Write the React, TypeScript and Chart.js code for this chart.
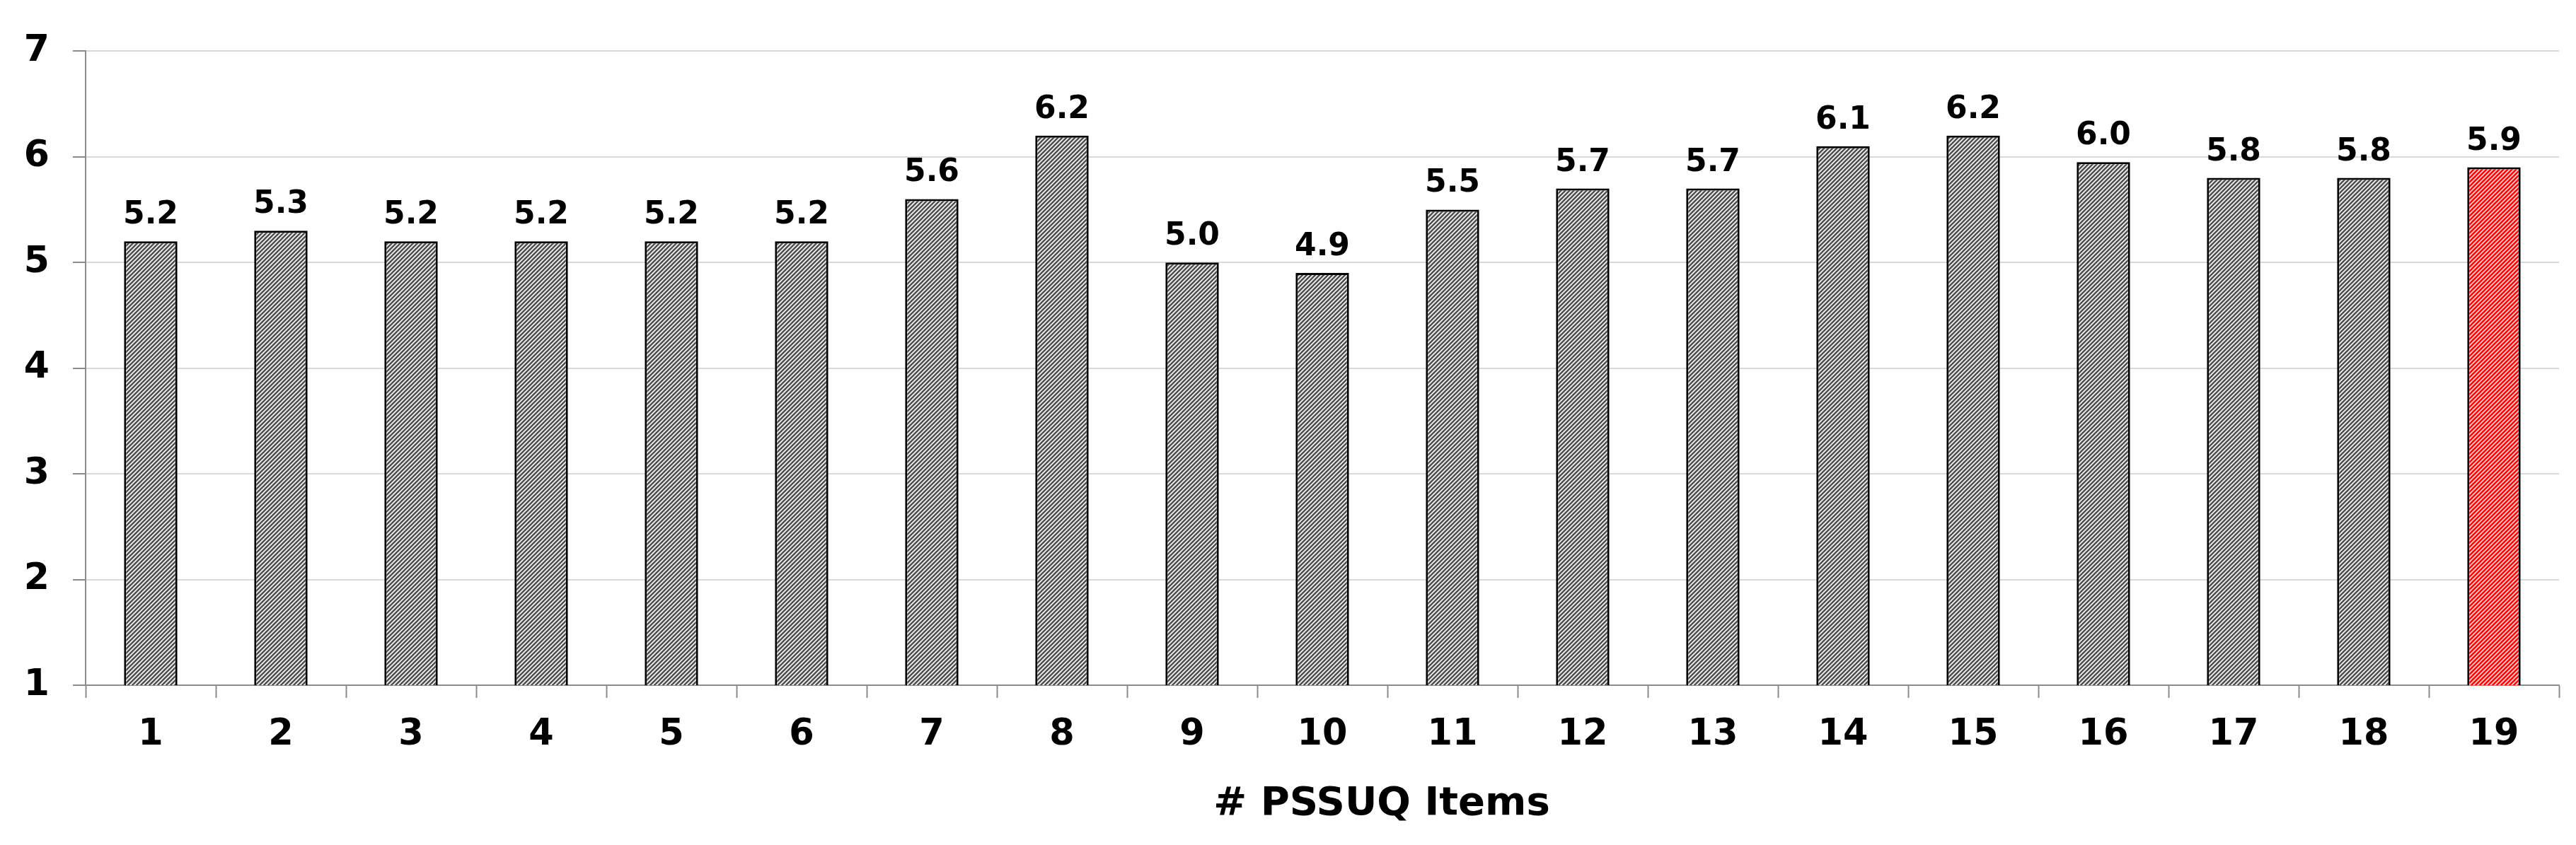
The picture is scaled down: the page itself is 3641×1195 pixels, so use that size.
import React, { useEffect, useRef } from "react";
import { Chart, registerables } from "chart.js";

Chart.register(...registerables);

const categories = ["1","2","3","4","5","6","7","8","9","10","11","12","13","14","15","16","17","18","19"];
const values = [5.2,5.3,5.2,5.2,5.2,5.2,5.6,6.2,5.0,4.9,5.5,5.7,5.7,6.1,6.2,5.95,5.8,5.8,5.9];
const highlightIndex = 18;
const yTicks = [1,2,3,4,5,6,7];
const xTitle = "# PSSUQ Items";

const FONT = "'DejaVu Sans', Verdana, sans-serif";

function makeHatch(bg: string, fg: string) {
  const c = document.createElement("canvas");
  const s = 6;
  c.width = s; c.height = s;
  const g = c.getContext("2d")!;
  g.fillStyle = bg;
  g.fillRect(0, 0, s, s);
  g.strokeStyle = fg;
  g.lineWidth = 2.4;
  g.beginPath();
  g.moveTo(-s, s * 2); g.lineTo(s * 2, -s);
  g.moveTo(-s * 2, s * 2); g.lineTo(s, -s);
  g.moveTo(0, s * 2); g.lineTo(s * 3, -s);
  g.stroke();
  return g.createPattern(c, "repeat")!;
}

const labelPlugin = {
  id: "valueLabels",
  afterDatasetsDraw(chart: any) {
    const ctx = chart.ctx;
    const meta = chart.getDatasetMeta(0);
    ctx.save();
    ctx.font = `bold 44px ${FONT}`;
    ctx.fillStyle = "#000";
    ctx.textAlign = "center";
    ctx.textBaseline = "alphabetic";
    meta.data.forEach((bar: any, i: number) => {
      ctx.fillText(values[i].toFixed(1), bar.x, bar.y - 25);
    });
    // axis title
    const ca = chart.chartArea;
    ctx.font = `bold 56px ${FONT}`;
    ctx.fillText(xTitle, (ca.left + ca.right) / 2 + 84, ca.bottom + 183);
    ctx.restore();
  },
};

export default function App() {
  const ref = useRef<HTMLCanvasElement>(null);
  useEffect(() => {
    if (!ref.current) return;
    const gray = makeHatch("#f2f2f2", "#4d4d4d");
    const red = makeHatch("#ffd6d6", "#ff0000");
    const chart = new Chart(ref.current, {
      type: "bar",
      data: {
        labels: categories,
        datasets: [
          {
            data: values,
            backgroundColor: values.map((_, i) => (i === highlightIndex ? red : gray)) as any,
            borderColor: "#000",
            borderWidth: 3,
            borderSkipped: false,
            categoryPercentage: 1,
            barPercentage: 0.41,
          },
        ],
      },
      options: {
        animation: false,
        responsive: false,
        maintainAspectRatio: false,
        layout: { padding: { top: 58, right: 16, left: 0, bottom: 0 } },
        plugins: { legend: { display: false }, tooltip: { enabled: false }, title: { display: false } },
        scales: {
          x: {
            offset: true,
            grid: {
              offset: true,
              drawOnChartArea: false,
              drawTicks: true,
              tickLength: 18,
              tickColor: "#8c8c8c",
              tickWidth: 2,
            },
            border: { display: true, color: "#8c8c8c", width: 2 },
            ticks: {
              color: "#000",
              font: { family: FONT, weight: "bold", size: 51 },
              padding: 22,
              maxRotation: 0,
              autoSkip: false,
            },
            afterFit(scale: any) { scale.height = 218; },
          },
          y: {
            min: 1,
            max: 7,
            afterBuildTicks(scale: any) { scale.ticks = yTicks.map((v) => ({ value: v })); },
            grid: {
              color: "#d9d9d9",
              lineWidth: 2,
              drawTicks: true,
              tickLength: 18,
              tickColor: "#8c8c8c",
              tickWidth: 2,
            },
            border: { display: true, color: "#8c8c8c", width: 2 },
            ticks: {
              color: "#000",
              font: { family: FONT, weight: "bold", size: 52 },
              padding: 33,
            },
            afterFit(scale: any) { scale.width = 113; },
          },
        },
      },
      plugins: [labelPlugin],
    });
    return () => chart.destroy();
  }, []);
  return (
    <div style={{ width: 3625, height: 1179 }}>
      <canvas ref={ref} width={3625} height={1179} style={{ display: "block", width: 3625, height: 1179 }} />
    </div>
  );
}
